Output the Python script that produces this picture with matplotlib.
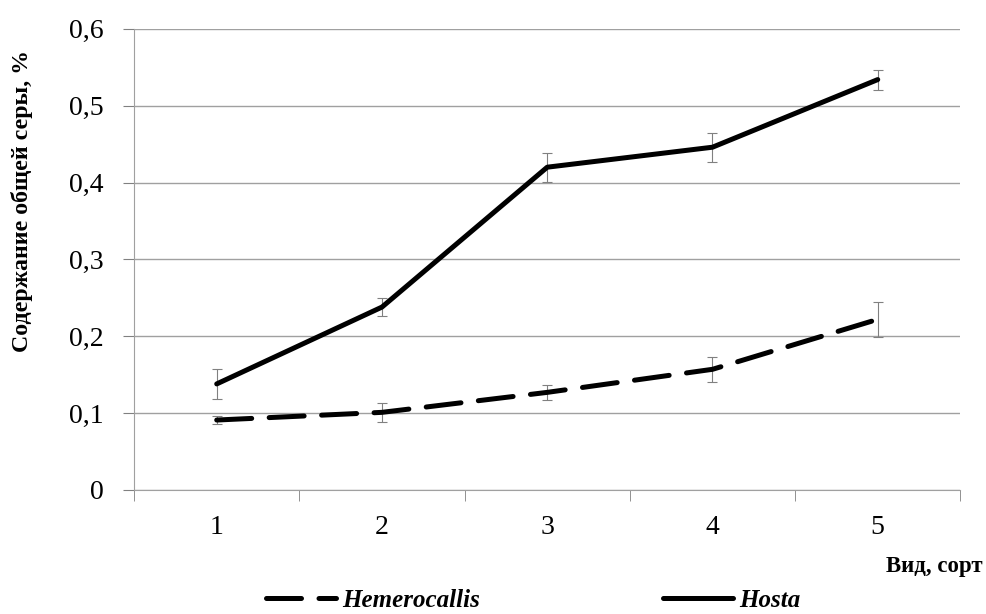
import numpy as np
import matplotlib.pyplot as plt

# values
groups = [1, 2, 3, 4, 5]
hemerocallis = [0.091, 0.101, 0.127, 0.157, 0.222]
hemerocallis_err = [0.005, 0.012, 0.010, 0.016, 0.023]
hosta = [0.138, 0.238, 0.420, 0.446, 0.534]
hosta_err = [0.019, 0.012, 0.019, 0.019, 0.013]
yticks = [0, 0.1, 0.2, 0.3, 0.4, 0.5, 0.6]
ytick_labels = ['0', '0,1', '0,2', '0,3', '0,4', '0,5', '0,6']

plt.rcParams['font.family'] = ['Liberation Serif', 'DejaVu Serif']

fig = plt.figure(figsize=(9.86, 6.14), dpi=100)
ax = fig.add_axes([0.136, 0.202, 0.838, 0.751])

x = np.array(groups)
ax.errorbar(x, hemerocallis, yerr=hemerocallis_err, fmt='none', ecolor='#808080',
            elinewidth=0.8, capsize=3.5, capthick=0.8, zorder=2)
ax.errorbar(x, hosta, yerr=hosta_err, fmt='none', ecolor='#808080',
            elinewidth=0.8, capsize=3.5, capthick=0.8, zorder=2)
l1, = ax.plot(x, hemerocallis, color='black', lw=3.6, dashes=(7, 3.5),
              dash_capstyle='round', zorder=3, label='Hemerocallis')
l2, = ax.plot(x, hosta, color='black', lw=3.6, solid_capstyle='round',
              zorder=3, label='Hosta')

ax.set_xlim(0.5, 5.5)
ax.set_ylim(0, 0.6)
ax.set_yticks(yticks)
ax.set_yticklabels(ytick_labels, fontsize=20)
ax.set_xticks(groups)
ax.set_xticklabels([str(g) for g in groups], fontsize=20)
ax.set_xticks(np.arange(0.5, 6.0, 1.0), minor=True)
ax.tick_params(axis='x', which='major', length=0, pad=18)
ax.tick_params(axis='x', which='minor', length=8, color='#808080', direction='out')
ax.tick_params(axis='y', length=8, color='#808080', pad=14)
ax.grid(axis='y', color='#a0a0a0', lw=1)
ax.set_axisbelow(True)
for s in ['top', 'right']:
    ax.spines[s].set_visible(False)
for s in ['left', 'bottom']:
    ax.spines[s].set_color('#a0a0a0')

fig.text(0.022, 0.672, 'Содержание общей серы, %', rotation=90, ha='center',
         va='center', fontsize=17.2, fontweight='bold')
fig.text(0.997, 0.078, 'Вид, сорт', ha='right', va='center', fontsize=16.5,
         fontweight='bold')

fig.legend(handles=[l1, l2], loc='center', bbox_to_anchor=(0.541, 0.022), ncol=2,
           frameon=False, handlelength=2.8, columnspacing=7.3, handletextpad=0.25,
           prop={'style': 'italic', 'weight': 'bold', 'size': 18})

fig.savefig('out.png', dpi=100)
